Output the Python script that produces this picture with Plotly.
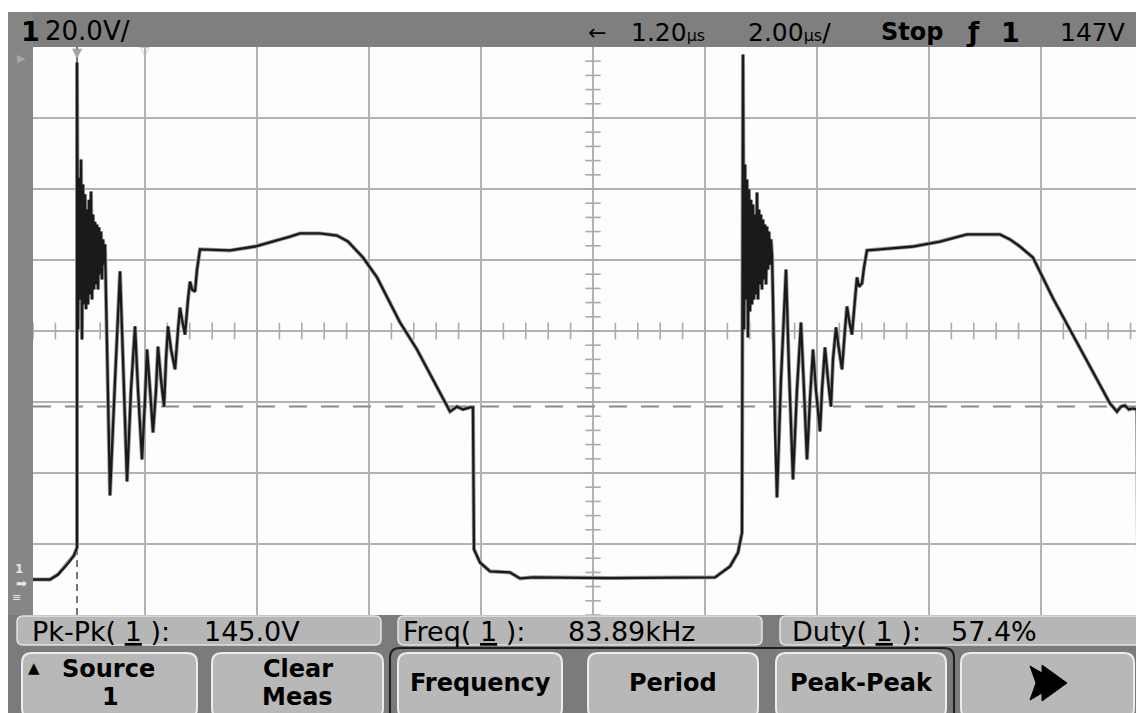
import plotly.graph_objects as go
import numpy as np

# Channel 1 trace: time in microseconds relative to the trigger, volts
cycle1_t = [-0.786, -0.482, -0.339, -0.179, -0.054, 0.0, 0.0,
            0.018, 0.036, 0.054, 0.071, 0.089, 0.107, 0.125, 0.143, 0.161, 0.179,
            0.196, 0.214, 0.232, 0.25, 0.268, 0.286, 0.304, 0.321, 0.339, 0.357,
            0.375, 0.393, 0.411, 0.429, 0.446, 0.464, 0.482, 0.5,
            0.518, 0.554, 0.589, 0.679, 0.768, 0.821, 0.893, 0.964, 1.036, 1.089,
            1.161, 1.214, 1.25, 1.304, 1.357, 1.411, 1.446, 1.5, 1.554, 1.589,
            1.625, 1.679, 1.75, 1.804, 1.839, 1.875, 1.929, 1.982, 2.018, 2.054,
            2.107, 2.143, 2.196,
            2.732, 3.179, 3.804, 3.982, 4.339, 4.643, 4.839, 5.107, 5.357, 5.768,
            6.071, 6.357, 6.607, 6.661, 6.786, 6.893, 7.018, 7.071, 7.089, 7.196,
            7.375, 7.732, 7.911, 8.143, 9.5, 10.5, 11.393, 11.661, 11.804, 11.875]
cycle1_v = [0.0, 0.0, 1.4, 4.2, 6.8, 9.0, 145.6,
            70.4, 113.2, 78.9, 118.3, 67.6, 111.3, 77.5, 108.5, 76.1, 104.2,
            77.5, 107.0, 80.3, 109.3, 78.9, 102.8, 81.7, 100.8, 83.1, 100.0,
            81.7, 99.2, 85.9, 98.0, 84.5, 95.8, 88.7, 94.4,
            78.9, 42.3, 23.7, 56.3, 86.8, 62.0, 27.6, 53.5, 71.3, 53.5,
            33.8, 50.7, 64.8, 53.5, 41.4, 53.5, 65.6, 56.3, 48.7, 62.0,
            71.3, 64.8, 59.2, 70.4, 76.6, 73.2, 69.0, 78.9, 83.9, 81.7,
            81.1, 87.3, 93.0,
            92.7, 93.8, 96.6, 97.5, 97.5, 96.9, 95.2, 90.7, 85.1, 72.4,
            64.8, 56.3, 49.3, 47.3, 48.7, 47.9, 48.5, 48.5, 8.5, 4.8,
            2.3, 2.0, 0.3, 0.6, 0.4, 0.6, 0.6, 3.7, 7.6, 13.2]

cycle2_t = [11.893, 11.911, 11.929, 11.946, 11.964, 11.982, 12.0, 12.018, 12.036,
            12.054, 12.071, 12.089, 12.107, 12.125, 12.143, 12.161, 12.179, 12.196,
            12.214, 12.232, 12.25, 12.268, 12.286, 12.304, 12.321, 12.339, 12.357,
            12.375, 12.393, 12.411,
            12.429, 12.464, 12.5, 12.571, 12.661, 12.714, 12.786, 12.857, 12.929,
            12.982, 13.036, 13.089, 13.143, 13.196, 13.268, 13.304, 13.357, 13.411,
            13.464, 13.5, 13.554, 13.607, 13.661, 13.714, 13.75, 13.786, 13.839,
            13.893, 13.929, 13.964, 14.018, 14.054, 14.107,
            14.339, 14.929, 15.411, 15.893, 16.482, 16.661, 16.839, 17.071, 17.429,
            17.964, 18.446, 18.571, 18.643, 18.714, 18.786, 18.857, 18.929, 18.946,
            19.054]
cycle2_v = [147.9, 70.4, 116.9, 78.9, 112.7, 68.2, 109.9, 75.5, 107.0,
            77.5, 105.6, 78.9, 102.8, 80.3, 109.0, 78.9, 104.2, 83.1,
            102.8, 81.7, 101.4, 84.5, 100.0, 83.1, 99.4, 87.3, 98.0,
            88.7, 95.8, 91.5,
            78.9, 42.3, 23.1, 56.3, 87.3, 59.2, 28.2, 53.5, 72.4,
            53.5, 33.8, 50.7, 64.8, 53.5, 41.7, 53.5, 65.4, 56.3,
            48.7, 62.0, 71.0, 64.8, 59.2, 70.4, 76.9, 73.2, 69.0,
            78.9, 85.1, 82.5, 83.4, 87.9, 92.7,
            93.0, 93.8, 95.2, 97.2, 97.2, 95.8, 93.8, 90.7, 79.2,
            63.7, 49.6, 47.3, 48.7, 49.0, 47.9, 48.2, 47.9, 8.5,
            5.4]

trigger_time_us = 0.0
trigger_level_v = 48.7
screen_left_us = -0.786
screen_right_us = 19.054
time_per_div_us = 2.0
volts_per_div = 20.0
v_bottom, v_top = -10.0, 150.0
center_time_us = 9.214
center_v = 70.0

status_left = ["1", "20.0V/"]
status_right = ["\u2190", "1.20", "2.00", "Stop", "\u0192", "1", "147V"]
meas_names = ["Pk-Pk", "Freq", "Duty"]
meas_values = ["145.0V", "83.89kHz", "57.4%"]
softkeys = [["Source", "1"], ["Clear", "Meas"], ["Frequency"], ["Period"], ["Peak-Peak"], []]

# ---------------- page geometry helpers (screen pixels) ----------------
OFF = 8                      # page body margin of the html page
W, H = 1144 - OFF, 713 - OFF  # figure size
PL, PT, PR, PB = 33, 47, 1144, 615   # plot area in screen pixels
FONT = "DejaVu Sans"


def fx(x):
    return (x - PL) / (PR - PL)


def fy(y):
    return (PB - y) / (PB - PT)


def rect(x0, y0, x1, y1, fill, line=None, lw=0):
    return dict(type="rect", xref="paper", yref="paper", x0=fx(x0), x1=fx(x1),
                y0=fy(y1), y1=fy(y0), fillcolor=fill,
                line=dict(color=line or fill, width=lw), layer="above")


def rrect(x0, y0, x1, y1, r, fill, line, lw):
    X0, X1, Y0, Y1 = fx(x0), fx(x1), fy(y0), fy(y1)
    rx, ry = r / (PR - PL), r / (PB - PT)
    p = (f"M{X0+rx},{Y0} L{X1-rx},{Y0} Q{X1},{Y0} {X1},{Y0-ry} L{X1},{Y1+ry} "
         f"Q{X1},{Y1} {X1-rx},{Y1} L{X0+rx},{Y1} Q{X0},{Y1} {X0},{Y1+ry} "
         f"L{X0},{Y0-ry} Q{X0},{Y0} {X0+rx},{Y0} Z")
    return dict(type="path", xref="paper", yref="paper", path=p, fillcolor=fill,
                line=dict(color=line, width=lw), layer="above")


def poly(pts, fill):
    p = "M" + " L".join(f"{fx(a)},{fy(b)}" for a, b in pts) + " Z"
    return dict(type="path", xref="paper", yref="paper", path=p, fillcolor=fill,
                line=dict(color=fill, width=1), layer="above")


def text(x, y, s, size=25, color="#000", bold=False, anchor="left"):
    if bold:
        s = f"<b>{s}</b>"
    return dict(xref="paper", yref="paper", x=fx(x), y=fy(y), text=s, showarrow=False,
                xanchor=anchor, yanchor="middle", font=dict(family=FONT, size=size, color=color))


fig = go.Figure()

# centre-line graticule ticks
TICK = "#ababab"
hx = np.arange(screen_left_us, screen_right_us, time_per_div_us / 5)
fig.add_trace(go.Scatter(x=hx, y=[center_v] * len(hx), mode="markers", hoverinfo="skip",
                         marker=dict(symbol="line-ns-open", size=12, color=TICK,
                                     line=dict(color=TICK, width=1.6))))
vy = np.arange(v_bottom, v_top, volts_per_div / 5)
fig.add_trace(go.Scatter(x=[center_time_us] * len(vy), y=vy, mode="markers", hoverinfo="skip",
                         marker=dict(symbol="line-ew-open", size=11, color=TICK,
                                     line=dict(color=TICK, width=1.6))))

# trigger level / trigger time markers
fig.add_trace(go.Scatter(x=[screen_left_us, screen_right_us], y=[trigger_level_v] * 2, mode="lines",
                         line=dict(color="#8a8a8a", width=2, dash="18px,14px"), hoverinfo="skip"))
fig.add_trace(go.Scatter(x=[trigger_time_us] * 2, y=[v_bottom, v_top], mode="lines",
                         line=dict(color="#555555", width=1.6, dash="7px,5px"), hoverinfo="skip"))

# waveform
wt = cycle1_t + cycle2_t
wv = cycle1_v + cycle2_v
fig.add_trace(go.Scatter(x=wt, y=wv, mode="lines", line=dict(color="#9c9c9c", width=4.0), hoverinfo="skip"))
fig.add_trace(go.Scatter(x=wt, y=wv, mode="lines", line=dict(color="#1a1a1a", width=2.3), hoverinfo="skip"))

shapes = []
ann = []
# bezel
shapes.append(rect(8, 12, 1144, PT, "#7f7f7f"))
shapes.append(rect(8, 12, PL, PB, "#868686"))
shapes.append(rect(8, PB, 1144, 713, "#7b7b7b"))

# status line
ann.append(text(19, 31, status_left[0], 27, bold=True))
ann.append(text(43, 31, status_left[1], 26))
ann.append(text(586, 32, status_right[0], 22))
ann.append(text(629, 32, status_right[1] + "<span style='font-size:16px'>\u00b5s</span>", 25))
ann.append(text(746, 32, status_right[2] + "<span style='font-size:16px'>\u00b5s</span>/", 25))
ann.append(text(879, 32, status_right[3], 24, bold=True))
ann.append(text(964, 32, status_right[4], 26, bold=True))
ann.append(text(999, 32, status_right[5], 27, bold=True))
ann.append(text(1058, 32, status_right[6], 25))

# screen markers
ann.append(text(77, 52, "\u25bc", 13, color="#a0a0a0", anchor="center"))
ann.append(text(145, 51, "\u25bd", 12, color="#b8b8b8", anchor="center"))
ann.append(text(21, 58, "\u25b6", 11, color="#a8a8a8", anchor="center"))
ann.append(text(19, 569, "1", 12, color="#e6e6e6", anchor="center", bold=True))
ann.append(text(21, 583, "\u27a1", 13, color="#e6e6e6", anchor="center"))
ann.append(text(16, 597, "\u2261", 11, color="#e6e6e6", anchor="center"))

# measurement boxes
boxes = [(17, 381), (398, 762), (780, 1143)]
name_x = [30, 401, 790]
val_x = [202, 566, 949]
for (x0, x1), nx, vx, name, val in zip(boxes, name_x, val_x, meas_names, meas_values):
    shapes.append(rrect(x0, 616, x1, 645, 6, "#b6b6b6", "#e4e4e4", 1.5))
    ann.append(text(nx, 631, f"{name}(\u00a0<u>1</u>\u00a0):", 27))
    ann.append(text(vx, 631, val, 27))

# softkey group outline
shapes.append(rrect(390, 648, 954, 722, 10, "#7b7b7b", "#1e1e1e", 2))
keys = [(22, 197), (212, 383), (398, 562), (588, 758), (776, 946), (961, 1134)]
for (x0, x1), lines in zip(keys, softkeys):
    shapes.append(rrect(x0, 653, x1, 718, 10, "#b8b8b8", "#ececec", 2))
    cx = (x0 + x1) / 2
    if x0 < 100:
        cx = 108
    if len(lines) == 1:
        ann.append(text(cx, 683, lines[0], 24, bold=True, anchor="center"))
    elif len(lines) == 2:
        ann.append(text(cx, 669, lines[0], 24, bold=True, anchor="center"))
        ann.append(text(cx + (2 if x0 < 100 else 0), 697, lines[1], 24, bold=True, anchor="center"))
# up-arrow on the Source softkey and forward arrow glyph on the last softkey
ann.append(text(34, 668, "\u25b2", 15, anchor="center"))
shapes.append(poly([(1030, 666), (1042, 673), (1042, 665), (1067, 683), (1042, 701), (1042, 693),
                    (1030, 700), (1036, 683)], "#000000"))

fig.update_layout(
    width=W, height=H, autosize=False,
    margin=dict(l=PL - OFF, r=1144 - PR, t=PT - OFF, b=713 - PB, pad=0),
    paper_bgcolor="#ffffff", plot_bgcolor="#fdfdfd",
    showlegend=False, shapes=shapes, annotations=ann,
    xaxis=dict(range=[screen_left_us, screen_right_us], tick0=screen_left_us, dtick=time_per_div_us,
               showgrid=True, gridcolor="#b2b2b2", gridwidth=2, zeroline=False,
               showticklabels=False, ticks="", showline=False, fixedrange=True),
    yaxis=dict(range=[v_bottom, v_top], tick0=v_bottom, dtick=volts_per_div,
               showgrid=True, gridcolor="#b2b2b2", gridwidth=2, zeroline=False,
               showticklabels=False, ticks="", showline=False, fixedrange=True),
)

fig.write_html("out.html")
